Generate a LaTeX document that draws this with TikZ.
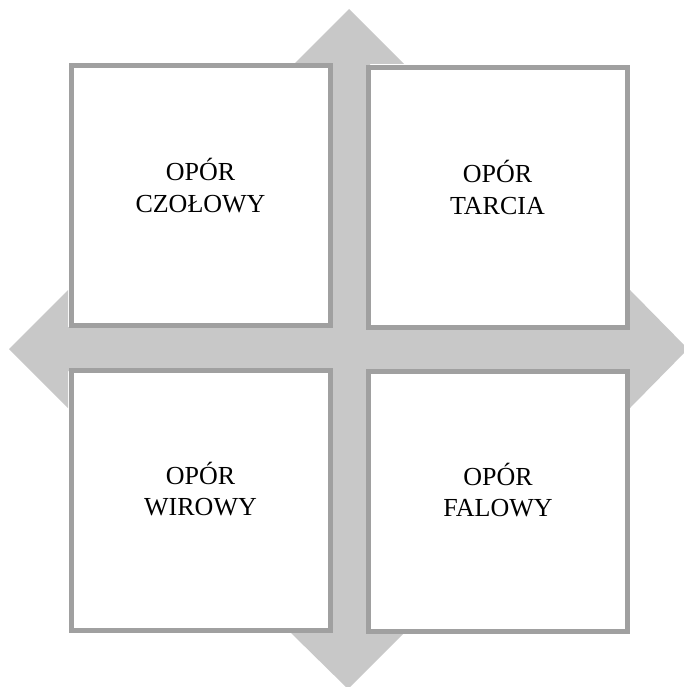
\documentclass[tikz,border=0pt]{standalone}
\usepackage{fontspec}
\setmainfont{Liberation Serif}
\definecolor{crossfill}{RGB}{200,200,200}
\definecolor{boxline}{RGB}{160,160,160}
\begin{document}
\begin{tikzpicture}[x=1pt,y=-1pt,
  panel/.style={draw=boxline,line width=5pt,fill=white,rectangle,inner sep=0pt,
                minimum width=259pt,minimum height=260pt},
  lbl/.style={align=center,font=\fontsize{26}{31.5}\selectfont,text=black,inner sep=0pt}]
  \useasboundingbox (0,0) rectangle (684,687);
  \clip (0,0) rectangle (684,687);
  % four-way arrow behind the panels
  \fill[crossfill] (349,9) -- (404,64) -- (370,64) -- (370,327) -- (630,327) -- (630,290)
    -- (688,349) -- (630,408) -- (630,371) -- (370,371) -- (370,632) -- (405,632)
    -- (348,689) -- (290,632) -- (326,632) -- (326,371) -- (68,371) -- (68,408)
    -- (9,349) -- (68,290) -- (68,327) -- (326,327) -- (326,64) -- (294,64) -- cycle;
  % panels
  \node[panel] (tl) at (200.5,195.5) {};
  \node[panel] (tr) at (497.5,197.5) {};
  \node[panel] (bl) at (200.5,500) {};
  \node[panel] (br) at (498,501) {};
  % labels
  \node[lbl] (tltext) at ([yshift=10]tl.center) {OPÓR\\CZOŁOWY};
  \node[lbl] (trtext) at ([yshift=10]tr.center) {OPÓR\\TARCIA};
  \node[lbl] (bltext) at ([yshift=11]bl.center) {OPÓR\\WIROWY};
  \node[lbl] (brtext) at ([yshift=11]br.center) {OPÓR\\FALOWY};
\end{tikzpicture}
\end{document}
